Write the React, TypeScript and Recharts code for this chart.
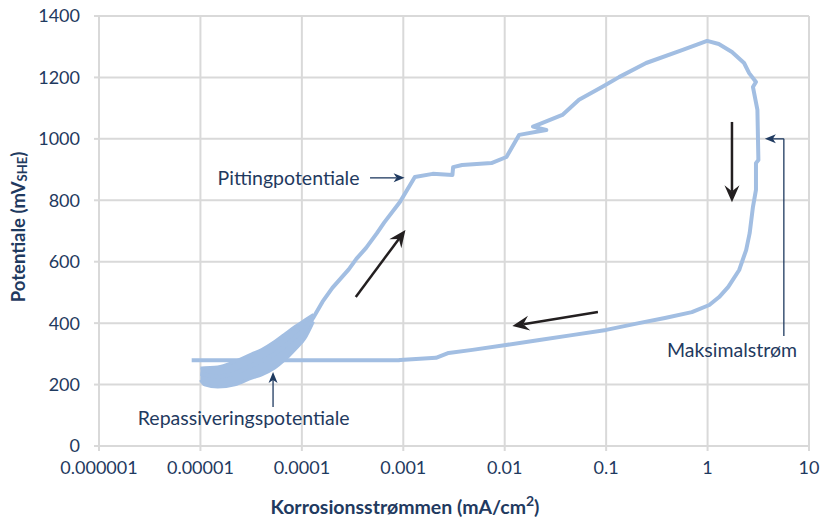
import React from 'react';
import {
  ComposedChart, Line, Area, XAxis, YAxis, CartesianGrid, ReferenceLine, ReferenceDot, Label
} from 'recharts';

// noisy region at the start of the forward scan (drawn as a band)
const noiseCurrent = [1.0e-5, 1.1e-5, 1.48e-5, 2.18e-5, 3.21e-5, 4.02e-5, 5.4e-5, 6.77e-5, 8.5e-5, 1.07e-4, 1.3e-4];
const noiseLow = [215, 199, 192, 199, 221, 232, 254, 280, 313, 350, 405];
const noiseHigh = [254, 255, 257, 275, 300, 314, 340, 364, 388, 410, 428];

// forward scan: pitting, up to max potential
const forwardCurrent = [
  1.0e-5, 1.5e-5, 2.2e-5, 3.2e-5, 4.0e-5, 5.4e-5, 6.8e-5, 8.5e-5, 1.07e-4, 1.3e-4,
  1.6e-4, 2.0e-4, 2.9e-4, 3.46e-4, 4.3e-4, 5.5e-4, 6.5e-4, 9.3e-4, 1.3e-3, 1.95e-3,
  3.05e-3, 3.1e-3, 3.8e-3, 7.4e-3, 1.04e-2, 1.39e-2, 2.57e-2, 1.9e-2, 2.2e-2, 3.7e-2,
  5.4e-2, 9.1e-2, 0.134, 0.248, 0.56, 0.99, 1.29, 1.74, 2.29, 2.57, 3.0,
];
const forwardPotential = [
  235, 224, 237, 262, 276, 300, 326, 353, 380, 418,
  470, 515, 575, 610, 645, 693, 728, 795, 876, 886,
  882, 908, 915, 921, 941, 1013, 1029, 1040, 1048, 1078,
  1127, 1169, 1201, 1247, 1289, 1319, 1309, 1283, 1247, 1214, 1185,
];

// reverse scan back down to repassivation
const reverseCurrent = [
  2.8, 3.1, 3.17, 3.0, 3.0, 2.8, 2.6, 2.4, 2.1, 2.05,
  1.6, 1.3, 1.04, 0.7, 0.38, 0.21, 0.1, 0.046, 0.022, 0.0103,
  0.0048, 0.0028, 0.0021, 0.00093, 0.0009, 8.2e-6,
];
const reversePotential = [
  1169, 1094, 931, 921, 834, 778, 693, 638, 583, 573,
  518, 485, 459, 436, 417, 400, 378, 361, 345, 329,
  313, 303, 287, 280, 279, 279,
];

const xTicks = [1e-6, 1e-5, 1e-4, 1e-3, 1e-2, 0.1, 1, 10];
const xTickLabels = ['0.000001', '0.00001', '0.0001', '0.001', '0.01', '0.1', '1', '10'];
const yTicks = [0, 200, 400, 600, 800, 1000, 1200, 1400];

const data: any[] = [
  ...noiseCurrent.map((x, i) => ({ x, band: [noiseLow[i], noiseHigh[i]] })),
  ...forwardCurrent.map((x, i) => ({ x, y: forwardPotential[i] })),
  ...reverseCurrent.map((x, i) => ({ x, y: reversePotential[i] })),
];

const NAVY = '#1f3a60';
const CURVE = '#a2bee2';
const GRID = '#d9d9d9';
const FONT = 'Lato, "Open Sans", sans-serif';

const makeArrow = (color: string, width: number, len: number, half: number, notch: number, head = true) =>
  (p: any) => {
    const { x1, y1, x2, y2 } = p;
    if (!head) {
      return <line x1={x1} y1={y1} x2={x2} y2={y2} stroke={color} strokeWidth={width} />;
    }
    const dx = x2 - x1;
    const dy = y2 - y1;
    const d = Math.sqrt(dx * dx + dy * dy) || 1;
    const ux = dx / d;
    const uy = dy / d;
    const nx = -uy;
    const ny = ux;
    const bx = x2 - ux * len;
    const by = y2 - uy * len;
    const mx = x2 - ux * (len - notch);
    const my = y2 - uy * (len - notch);
    const pts = `${x2},${y2} ${bx + nx * half},${by + ny * half} ${mx},${my} ${bx - nx * half},${by - ny * half}`;
    return (
      <g>
        <line x1={x1} y1={y1} x2={mx} y2={my} stroke={color} strokeWidth={width} />
        <polygon points={pts} fill={color} />
      </g>
    );
  };

const blackArrow = makeArrow('#231f20', 2.5, 17, 7.5, 6);
const navyArrow = makeArrow(NAVY, 1.3, 11, 4.5, 3);
const navyLine = makeArrow(NAVY, 1.3, 0, 0, 0, false);

const textAt = (txt: string, anchor: string) => (p: any) => (
  <text x={p.cx} y={p.cy} textAnchor={anchor} dominantBaseline="central"
    fill={NAVY} fontSize={19.5} fontFamily={FONT}>{txt}</text>
);

export default function App() {
  return (
    <div style={{ position: 'absolute', left: 0, top: 0, background: '#fff' }}>
      <ComposedChart width={827} height={517} data={data}
        margin={{ top: 16, right: 18, bottom: 0, left: 0 }}>
        <CartesianGrid stroke={GRID} strokeWidth={2} />
        <XAxis type="number" dataKey="x" scale="log" domain={[1e-6, 10]} ticks={xTicks}
          allowDataOverflow height={71}
          tickFormatter={(v: number, i: number) => xTickLabels[i]}
          tick={{ fill: NAVY, fontSize: 18, fontFamily: FONT }}
          tickSize={5} tickMargin={10}
          stroke={GRID} axisLine={{ stroke: GRID, strokeWidth: 2 }} tickLine={{ stroke: GRID, strokeWidth: 2 }}>
          <Label content={() => (
            <text x={405} y={506} textAnchor="middle" dominantBaseline="central"
              fill={NAVY} fontSize={19.5} fontWeight="bold" fontFamily={FONT}>
              Korrosionsstrømmen (mA/cm<tspan dy={-6} fontSize={14}>2</tspan><tspan dy={6}>)</tspan>
            </text>
          )} />
        </XAxis>
        <YAxis type="number" domain={[0, 1400]} ticks={yTicks} width={99}
          tick={{ fill: NAVY, fontSize: 18, fontFamily: FONT }}
          tickSize={5} tickMargin={14}
          stroke={GRID} axisLine={{ stroke: GRID, strokeWidth: 2 }} tickLine={{ stroke: GRID, strokeWidth: 2 }}>
          <Label content={() => (
            <text x={18} y={227} transform="rotate(-90 18 227)" textAnchor="middle" dominantBaseline="central"
              fill={NAVY} fontSize={18.5} fontWeight="bold" fontFamily={FONT}>
              Potentiale (mV<tspan dy={4} fontSize={13}>SHE</tspan><tspan dy={-4}>)</tspan>
            </text>
          )} />
        </YAxis>
        <Area type="monotone" dataKey="band" stroke={CURVE} strokeWidth={3} fill={CURVE} fillOpacity={1}
          isAnimationActive={false} dot={false} activeDot={false} />
        <Line type="linear" dataKey="y" stroke={CURVE} strokeWidth={4} dot={false} connectNulls
          isAnimationActive={false} strokeLinejoin="round" />

        {/* direction arrows */}
        <ReferenceLine segment={[{ x: 3.4e-4, y: 485 }, { x: 1.05e-3, y: 703 }]} shape={blackArrow} />
        <ReferenceLine segment={[{ x: 1.74, y: 1055 }, { x: 1.74, y: 794 }]} shape={blackArrow} />
        <ReferenceLine segment={[{ x: 0.083, y: 436 }, { x: 0.0119, y: 391 }]} shape={blackArrow} />

        {/* annotations */}
        <ReferenceLine segment={[{ x: 4.7e-4, y: 873 }, { x: 1.03e-3, y: 873 }]} shape={navyArrow} />
        <ReferenceLine segment={[{ x: 5.2e-5, y: 127 }, { x: 5.2e-5, y: 241 }]} shape={navyArrow} />
        <ReferenceLine segment={[{ x: 5.65, y: 358 }, { x: 5.65, y: 1000 }]} shape={navyLine} />
        <ReferenceLine segment={[{ x: 5.65, y: 1000 }, { x: 3.67, y: 1000 }]} shape={navyArrow} />

        <ReferenceDot x={3.7e-4} y={873} r={0} shape={textAt('Pittingpotentiale', 'end')} />
        <ReferenceDot x={2.67e-5} y={94} r={0} shape={textAt('Repassiveringspotentiale', 'middle')} />
        <ReferenceDot x={1.74} y={313} r={0} shape={textAt('Maksimalstrøm', 'middle')} />
      </ComposedChart>
    </div>
  );
}
